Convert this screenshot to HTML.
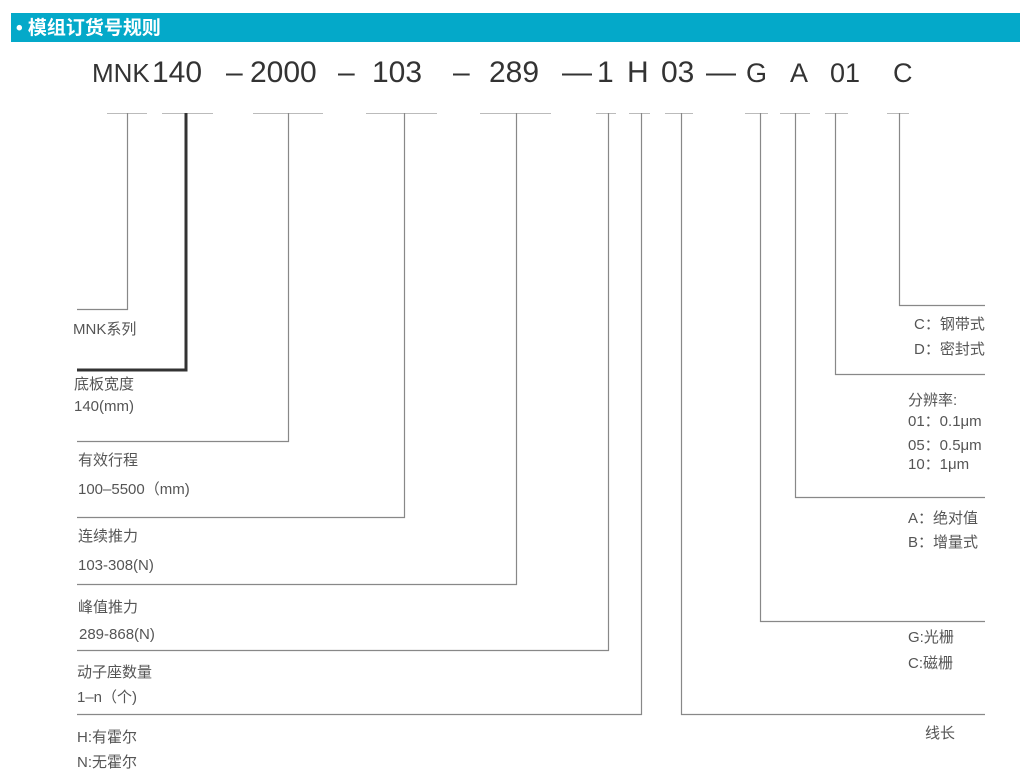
<!DOCTYPE html>
<html><head><meta charset="utf-8"><style>
html,body{margin:0;padding:0;background:#fff;width:1020px;height:781px;overflow:hidden}
svg{display:block}
text{font-family:"Liberation Sans","Noto Sans CJK SC",sans-serif;fill:#555;font-size:15px}
.big{font-size:30px;fill:#333}
</style></head><body>
<svg width="1020" height="781" viewBox="0 0 1020 781">
<rect x="11" y="13" width="1009" height="29" fill="#04a9c9"/>
<text x="16" y="34" style="font-size:19px;fill:#fff;font-weight:bold">• 模组订货号规则</text>
<text x="92" y="82" class="big" style="font-size:26px">MNK</text>
<text x="152" y="82" class="big">140</text>
<text x="226" y="82" class="big">–</text>
<text x="250" y="82" class="big">2000</text>
<text x="338" y="82" class="big">–</text>
<text x="372" y="82" class="big">103</text>
<text x="453" y="82" class="big">–</text>
<text x="489" y="82" class="big">289</text>
<text x="562" y="82" class="big">—</text>
<text x="597" y="82" class="big">1</text>
<text x="627" y="82" class="big">H</text>
<text x="661" y="82" class="big">03</text>
<text x="706" y="82" class="big">—</text>
<text x="746" y="82" class="big" style="font-size:27px">G</text>
<text x="790" y="82" class="big" style="font-size:27px">A</text>
<text x="830" y="82" class="big" style="font-size:27px">01</text>
<text x="893" y="82" class="big" style="font-size:27px">C</text>
<g stroke="#bbb" stroke-width="1" fill="none">
<path d="M107 113.5H147M253 113.5H323M366 113.5H437M480 113.5H551M596 113.5H616M629 113.5H650M665 113.5H693M745 113.5H768M780 113.5H810M825 113.5H848M887 113.5H909M162 113.5H213"/>
</g>
<g stroke="#888" stroke-width="1.2" fill="none">
<path d="M127.5 113V309.5H77"/>
<path d="M288.5 113V441.5H77"/>
<path d="M404.5 113V517.5H77"/>
<path d="M516.5 113V584.5H77"/>
<path d="M608.5 113V650.5H77"/>
<path d="M641.5 113V714.5H77"/>
<path d="M681.5 113V714.5H985"/>
<path d="M760.5 113V621.5H985"/>
<path d="M795.5 113V497.5H985"/>
<path d="M835.5 113V374.5H985"/>
<path d="M899.5 113V305.5H985"/>
</g>
<path d="M186 113V370H77" stroke="#333" stroke-width="3" fill="none"/>
<text x="73" y="334">MNK系列</text>
<text x="74" y="389">底板宽度</text>
<text x="74" y="411">140(mm)</text>
<text x="78" y="465">有效行程</text>
<text x="78" y="494">100–5500（mm)</text>
<text x="78" y="541">连续推力</text>
<text x="78" y="570">103-308(N)</text>
<text x="78" y="612">峰值推力</text>
<text x="79" y="639">289-868(N)</text>
<text x="77" y="677">动子座数量</text>
<text x="77" y="702">1–n（个)</text>
<text x="77" y="742">H:有霍尔</text>
<text x="77" y="767">N:无霍尔</text>
<text x="914" y="329">C：钢带式</text>
<text x="914" y="354">D：密封式</text>
<text x="908" y="405">分辨率:</text>
<text x="908" y="426">01：0.1μm</text>
<text x="908" y="450">05：0.5μm</text>
<text x="908" y="469">10：1μm</text>
<text x="908" y="523">A：绝对值</text>
<text x="908" y="547">B：增量式</text>
<text x="908" y="642">G:光栅</text>
<text x="908" y="668">C:磁栅</text>
<text x="925" y="738">线长</text>
</svg>
</body></html>
